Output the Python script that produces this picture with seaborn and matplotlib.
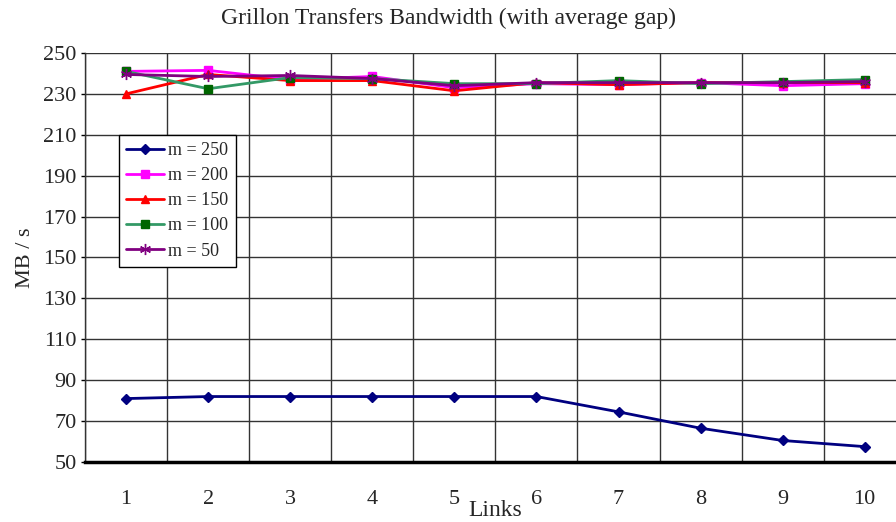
import matplotlib
matplotlib.use('Agg')
import matplotlib.pyplot as plt
import pandas as pd
import seaborn as sns

links = [1, 2, 3, 4, 5, 6, 7, 8, 9, 10]
m250 = [81, 82, 82, 82, 82, 82, 74.5, 66.5, 60.5, 57.5]
m200 = [241, 241.5, 237, 238.5, 233, 235, 234.5, 235.5, 234, 235]
m150 = [230, 239.5, 236.5, 236.5, 231.5, 235.5, 234.5, 235.5, 235.5, 235.5]
m100 = [241, 232.5, 238, 237.5, 235, 235, 236.5, 235, 236, 237]
m50 = [239.5, 238.5, 239, 237.5, 234, 235.5, 235.5, 235.5, 235.5, 236]
y_ticks = [50, 70, 90, 110, 130, 150, 170, 190, 210, 230, 250]

sns.set_theme(style='white')
plt.rcParams['font.family'] = ['Liberation Serif', 'DejaVu Serif']

fig = plt.figure(figsize=(8.96, 5.22), dpi=100)
ax = fig.add_axes([0.0949, 0.115, 0.916, 0.7835])

# line colour, marker, marker colour, marker size
styles = [
    ('m = 250', m250, '#000080', 'D', '#000080', 5),
    ('m = 200', m200, '#FF00FF', 's', '#FF00FF', 6),
    ('m = 150', m150, '#FF0000', '^', '#FF0000', 6),
    ('m = 100', m100, '#339966', 's', '#006600', 6),
    ('m = 50', m50, '#800080', (6, 2, 0), '#800080', 8),
]

for label, vals, col, mk, mcol, ms in styles:
    df = pd.DataFrame({'links': links, 'value': vals})
    sns.lineplot(data=df, x='links', y='value', ax=ax, color=col, lw=2,
                 marker=mk, markersize=ms, markerfacecolor=mcol,
                 markeredgecolor=mcol, markeredgewidth=1, label=label)

ax.set_xlim(0.5, 10.5)
ax.set_ylim(50, 250)
ax.set_yticks(y_ticks)
ax.set_xticks(links)
ax.set_xticks([x - 0.5 for x in links] + [10.5], minor=True)
ax.grid(True, which='minor', axis='x', color='#333333', lw=1)
ax.grid(True, which='major', axis='y', color='#333333', lw=1)
ax.tick_params(axis='x', which='major', length=0, labelsize=16, pad=20)
ax.tick_params(axis='x', which='minor', length=6, width=2, color='black', direction='out')
ax.tick_params(axis='y', length=3, width=1, color='black', direction='out', labelsize=16, left=True, pad=3)
for s in ['top', 'right']:
    ax.spines[s].set_visible(False)
ax.spines['bottom'].set_linewidth(2.5)
ax.spines['bottom'].set_color('black')
ax.spines['left'].set_color('#333333')
ax.spines['left'].set_linewidth(1)

ax.set_xlabel('Links', fontsize=17, labelpad=-6)
ax.set_ylabel('MB / s', fontsize=16, labelpad=6)
fig.text(0.5, 0.965, 'Grillon Transfers Bandwidth (with average gap)',
         ha='center', va='center', fontsize=17)

leg = ax.legend(loc='upper left', bbox_to_anchor=(0.041, 0.80), frameon=True,
                fancybox=False, edgecolor='black', fontsize=13,
                handlelength=2.1, borderpad=0.4, labelspacing=0.45,
                handletextpad=0.25, framealpha=1, borderaxespad=0)
leg.get_frame().set_linewidth(1)

fig.savefig('out.png', dpi=100)
